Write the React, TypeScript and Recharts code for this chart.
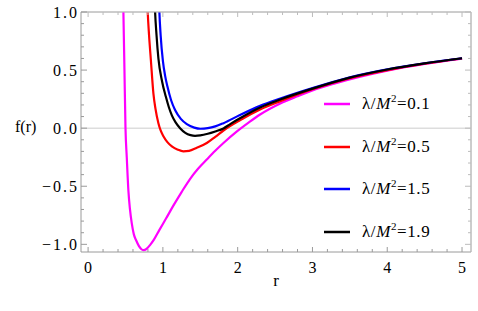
import { LineChart, Line, XAxis, YAxis, ReferenceLine, Legend } from "recharts";

// lambda / M^2 values, one curve each
const LAMBDAS = ["0.1", "0.5", "1.5", "1.9"];
const COLORS = ["#ff00ff", "#ff0000", "#0000ff", "#000000"];

// values
const R_01 = [0.462, 0.472, 0.486, 0.5, 0.517, 0.539, 0.56, 0.584, 0.61, 0.642, 0.68, 0.71, 0.74, 0.78, 0.83, 0.88, 0.95, 1.04, 1.14, 1.25, 1.36, 1.47, 1.587, 1.7, 1.81, 1.99, 2.15, 2.3, 2.57, 2.8, 3.0, 3.3, 3.64, 4.0, 4.5, 5.0];
const F_01 = [1.3, 1.0, 0.5, 0.0, -0.25, -0.54, -0.7, -0.82, -0.91, -0.965, -1.015, -1.04, -1.05, -1.04, -1.005, -0.96, -0.88, -0.78, -0.667, -0.55, -0.44, -0.35, -0.27, -0.195, -0.128, -0.028, 0.05, 0.118, 0.213, 0.275, 0.325, 0.385, 0.443, 0.495, 0.553, 0.598];

const R_05 = [0.785, 0.797, 0.815, 0.84, 0.873, 0.9, 0.94, 0.97, 1.007, 1.06, 1.12, 1.2, 1.274, 1.35, 1.45, 1.587, 1.7, 1.81, 2.03, 2.3, 2.57, 3.0, 3.5, 4.0, 4.5, 5.0];
const F_05 = [1.2, 1.0, 0.8, 0.58, 0.3, 0.17, 0.043, -0.02, -0.07, -0.12, -0.156, -0.185, -0.199, -0.195, -0.17, -0.128, -0.075, -0.02, 0.068, 0.16, 0.232, 0.335, 0.43, 0.5, 0.555, 0.6];

const R_15 = [0.943, 0.953, 0.97, 1.0, 1.03, 1.06, 1.11, 1.163, 1.24, 1.32, 1.42, 1.5, 1.6, 1.7, 1.81, 2.03, 2.3, 2.57, 3.0, 3.5, 4.0, 4.5, 5.0];
const F_15 = [1.2, 1.0, 0.8, 0.58, 0.45, 0.36, 0.24, 0.156, 0.08, 0.035, 0.005, -0.005, 0.0, 0.015, 0.043, 0.113, 0.192, 0.255, 0.345, 0.438, 0.507, 0.559, 0.602];

const R_19 = [0.885, 0.896, 0.915, 0.94, 0.99, 1.04, 1.08, 1.12, 1.17, 1.23, 1.3, 1.37, 1.43, 1.5, 1.6, 1.7, 1.81, 1.9, 2.03, 2.3, 2.57, 3.0, 3.5, 4.0, 4.5, 5.0];
const F_19 = [1.2, 1.0, 0.8, 0.6, 0.4, 0.27, 0.18, 0.11, 0.05, 0.0, -0.04, -0.06, -0.066, -0.062, -0.048, -0.028, -0.002, 0.035, 0.085, 0.178, 0.247, 0.34, 0.435, 0.505, 0.558, 0.602];

const X_MAJOR = [0, 1, 2, 3, 4, 5];
const X_LABELS = ["0", "1", "2", "3", "4", "5"];
const Y_MAJOR = [-1, -0.5, 0, 0.5, 1];
const Y_LABELS = ["\u22121.0", "\u22120.5", "0.0", "0.5", "1.0"];

// major + minor tick positions (0.2 on x, 0.1 on y)
const X_TICKS = Array.from({ length: 26 }, (_, i) => Math.round(i * 2) / 10);
const Y_TICKS = Array.from({ length: 21 }, (_, i) => (i - 10) / 10);

const X_DOMAIN = [-0.095, 5.12];
const Y_DOMAIN = [-1.066, 1.0];

const AXIS = "#9a9a9a";
const FRAME = "#bcbcbc";
const FONT = "Liberation Serif";

const zip = (r: number[], f: number[]) => r.map((x, i) => ({ r: x, f: f[i] }));
const SERIES = [zip(R_01, F_01), zip(R_05, F_05), zip(R_15, F_15), zip(R_19, F_19)];

const isMajor = (list: number[], v: number) => list.findIndex((m) => Math.abs(m - v) < 1e-6);

function BottomTick({ x, y, payload }: any) {
  const i = isMajor(X_MAJOR, payload.value);
  return (
    <g>
      <line x1={x} y1={y} x2={x} y2={y - (i >= 0 ? 5 : 3)} stroke={AXIS} />
      {i >= 0 && (
        <text x={x} y={y + 21} textAnchor="middle" fontFamily={FONT} fontSize={16} fill="#000">
          {X_LABELS[i]}
        </text>
      )}
    </g>
  );
}

function TopTick({ x, y, payload }: any) {
  const i = isMajor(X_MAJOR, payload.value);
  return <line x1={x} y1={y} x2={x} y2={y + (i >= 0 ? 5 : 3)} stroke={FRAME} />;
}

function LeftTick({ x, y, payload }: any) {
  const i = isMajor(Y_MAJOR, payload.value);
  return (
    <g>
      <line x1={x} y1={y} x2={x + (i >= 0 ? 6 : 3)} y2={y} stroke={AXIS} />
      {i >= 0 && (
        <text x={x - 2} y={y} dy="0.35em" textAnchor="end" fontFamily={FONT} fontSize={16} letterSpacing={2} fill="#000">
          {Y_LABELS[i]}
        </text>
      )}
    </g>
  );
}

function RightTick({ x, y, payload }: any) {
  const i = isMajor(Y_MAJOR, payload.value);
  return <line x1={x} y1={y} x2={x - (i >= 0 ? 6 : 3)} y2={y} stroke={FRAME} />;
}

function LegendBox({ payload }: any) {
  return (
    <div>
      {(payload || []).map((item: any, i: number) => (
        <div key={i} style={{ display: "flex", alignItems: "center", height: 42.5 }}>
          <svg width={26} height={4} style={{ display: "block" }}>
            <line x1={0} y1={2} x2={26} y2={2} stroke={item.color} strokeWidth={2.5} />
          </svg>
          <span style={{ marginLeft: 12, fontFamily: FONT, fontSize: 17, letterSpacing: 0.6, color: "#000", whiteSpace: "nowrap" }}>
            λ/<i>M</i>
            <sup style={{ fontSize: 11, lineHeight: 0 }}>2</sup>={LAMBDAS[i]}
          </span>
        </div>
      ))}
    </div>
  );
}

export default function App() {
  return (
    <div style={{ position: "absolute", left: 0, top: 0 }}>
      <LineChart width={478} height={311} margin={{ top: 11, right: 6, bottom: 29, left: 21 }}>
        <XAxis
          dataKey="r"
          type="number"
          domain={X_DOMAIN}
          allowDataOverflow
          ticks={X_TICKS}
          interval={0}
          tickSize={0}
          tickMargin={0}
          tickLine={false}
          height={30}
          stroke={AXIS}
          tick={<BottomTick />}
          label={({ viewBox }: any) => (
            <text x={viewBox.x + viewBox.width / 2} y={286} textAnchor="middle" fontFamily={FONT} fontSize={17} fill="#000">
              r
            </text>
          )}
        />
        <XAxis
          xAxisId="top"
          orientation="top"
          dataKey="r"
          type="number"
          domain={X_DOMAIN}
          allowDataOverflow
          ticks={X_TICKS}
          interval={0}
          tickSize={0}
          tickMargin={0}
          tickLine={false}
          height={1}
          stroke={FRAME}
          tick={<TopTick />}
        />
        <YAxis
          type="number"
          domain={Y_DOMAIN}
          allowDataOverflow
          ticks={Y_TICKS}
          interval={0}
          tickSize={0}
          tickMargin={0}
          tickLine={false}
          width={60}
          stroke={AXIS}
          tick={<LeftTick />}
          label={() => (
            <text x={15} y={132} fontFamily={FONT} fontSize={16} fill="#000">
              f(r)
            </text>
          )}
        />
        <YAxis
          yAxisId="right"
          orientation="right"
          type="number"
          domain={Y_DOMAIN}
          allowDataOverflow
          ticks={Y_TICKS}
          interval={0}
          tickSize={0}
          tickMargin={0}
          tickLine={false}
          width={1}
          stroke={FRAME}
          tick={<RightTick />}
        />
        {/* frame edges, in case the mirror axes leave them out */}
        <ReferenceLine y={Y_DOMAIN[1]} stroke={FRAME} />
        <ReferenceLine x={X_DOMAIN[1]} stroke={FRAME} />
        <ReferenceLine y={0} stroke="#cccccc" strokeWidth={1} />
        {SERIES.map((data, i) => {
          const last = i === SERIES.length - 1;
          return (
            <Line
              key={LAMBDAS[i]}
              data={data}
              dataKey="f"
              name={LAMBDAS[i]}
              type="monotone"
              stroke={COLORS[i]}
              strokeWidth={2.2}
              dot={false}
              isAnimationActive={false}
              xAxisId={last ? "top" : 0}
              yAxisId={last ? "right" : 0}
            />
          );
        })}
        <Legend
          layout="vertical"
          align="center"
          verticalAlign="middle"
          content={<LegendBox />}
          wrapperStyle={{ left: 324, top: 83, width: "auto", height: "auto" }}
        />
      </LineChart>
    </div>
  );
}
